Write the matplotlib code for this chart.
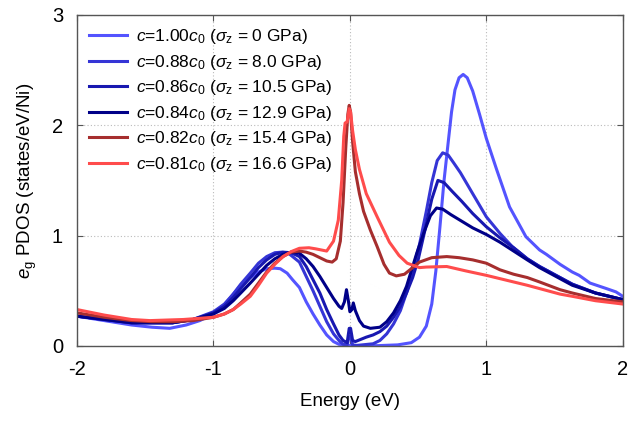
import matplotlib
matplotlib.use("Agg")
import matplotlib.pyplot as plt

plt.rcParams['font.family'] = ['Liberation Sans', 'DejaVu Sans']
plt.rcParams['mathtext.fontset'] = 'custom'
plt.rcParams['mathtext.rm'] = 'Liberation Sans'
plt.rcParams['mathtext.it'] = 'Liberation Sans:italic'
plt.rcParams['axes.unicode_minus'] = False

# data: energy (eV) and e_g PDOS (states/eV/Ni)
e_100 = [-2.0, -1.8, -1.6, -1.45, -1.32, -1.2, -1.1, -1.0, -0.92, -0.855, -0.8, -0.73, -0.67, -0.61,
         -0.55, -0.51, -0.46, -0.42, -0.37, -0.32, -0.27, -0.22, -0.17, -0.12, -0.08, 0.0, 0.2, 0.35,
         0.45, 0.51, 0.56, 0.6, 0.63, 0.66, 0.69, 0.72, 0.745, 0.77, 0.8, 0.83, 0.86, 0.9, 0.95, 1.0,
         1.075, 1.17, 1.29, 1.39, 1.44, 1.54, 1.63, 1.68, 1.76, 1.88, 1.95, 2.0]
d_100 = [0.27, 0.23, 0.19, 0.17, 0.16, 0.19, 0.23, 0.29, 0.37, 0.47, 0.55, 0.62, 0.67, 0.70,
         0.705, 0.70, 0.66, 0.60, 0.53, 0.40, 0.29, 0.19, 0.10, 0.04, 0.015, 0.005, 0.003, 0.01,
         0.03, 0.08, 0.18, 0.38, 0.68, 1.08, 1.50, 1.84, 2.12, 2.32, 2.43, 2.46, 2.43, 2.31, 2.10, 1.88,
         1.60, 1.26, 0.99, 0.87, 0.83, 0.74, 0.67, 0.64, 0.57, 0.52, 0.49, 0.45]

e_088 = [-2.0, -1.8, -1.6, -1.45, -1.3, -1.15, -1.0, -0.92, -0.855, -0.8, -0.73, -0.67, -0.61, -0.55,
         -0.5, -0.45, -0.4, -0.37, -0.32, -0.27, -0.22, -0.17, -0.12, -0.08, -0.05, -0.02, -0.005,
         0.005, 0.02, 0.05, 0.17, 0.22, 0.27, 0.32, 0.37, 0.42, 0.46, 0.51, 0.56, 0.6, 0.64, 0.68,
         0.72, 0.76, 0.81, 0.9, 1.0, 1.1, 1.19, 1.3, 1.39, 1.54, 1.63, 1.8, 2.0]
d_088 = [0.27, 0.24, 0.21, 0.21, 0.21, 0.24, 0.31, 0.38, 0.47, 0.56, 0.66, 0.75, 0.81, 0.845,
         0.85, 0.84, 0.79, 0.76, 0.63, 0.50, 0.36, 0.22, 0.11, 0.05, 0.015, 0.01, 0.09,
         0.09, 0.01, 0.005, 0.02, 0.05, 0.11, 0.2, 0.32, 0.5, 0.69, 0.92, 1.22, 1.48, 1.68, 1.75,
         1.73, 1.66, 1.57, 1.38, 1.17, 1.02, 0.90, 0.79, 0.72, 0.62, 0.56, 0.48, 0.42]

e_086 = [-2.0, -1.8, -1.6, -1.45, -1.3, -1.15, -1.0, -0.92, -0.855, -0.8, -0.73, -0.67, -0.61, -0.55,
         -0.49, -0.43, -0.37, -0.32, -0.27, -0.22, -0.17, -0.12, -0.08, -0.05, -0.02, -0.005, 0.005,
         0.02, 0.04, 0.08, 0.12, 0.17, 0.22, 0.27, 0.32, 0.37, 0.415, 0.46, 0.5, 0.55, 0.6, 0.645,
         0.69, 0.75, 0.82, 0.9, 1.0, 1.1, 1.2, 1.3, 1.39, 1.54, 1.63, 1.8, 2.0]
d_086 = [0.27, 0.24, 0.21, 0.21, 0.21, 0.24, 0.30, 0.36, 0.44, 0.52, 0.62, 0.71, 0.78, 0.83,
         0.85, 0.845, 0.81, 0.72, 0.60, 0.48, 0.33, 0.20, 0.10, 0.05, 0.03, 0.16, 0.16,
         0.05, 0.04, 0.06, 0.08, 0.10, 0.13, 0.18, 0.26, 0.36, 0.48, 0.62, 0.78, 1.05, 1.33, 1.50,
         1.48, 1.40, 1.31, 1.20, 1.08, 0.98, 0.89, 0.79, 0.72, 0.62, 0.56, 0.48, 0.42]

e_084 = [-2.0, -1.8, -1.6, -1.45, -1.3, -1.15, -1.0, -0.92, -0.855, -0.8, -0.73, -0.67, -0.61, -0.55,
         -0.49, -0.43, -0.37, -0.32, -0.27, -0.22, -0.17, -0.12, -0.08, -0.06, -0.04, -0.025, -0.01,
         0.0, 0.015, 0.025, 0.04, 0.07, 0.1, 0.15, 0.22, 0.27, 0.32, 0.37, 0.415, 0.45, 0.49, 0.54,
         0.59, 0.635, 0.68, 0.74, 0.82, 0.9, 1.0, 1.1, 1.2, 1.3, 1.39, 1.54, 1.63, 1.8, 2.0]
d_084 = [0.27, 0.24, 0.21, 0.21, 0.21, 0.24, 0.29, 0.34, 0.41, 0.48, 0.57, 0.65, 0.73, 0.79,
         0.83, 0.85, 0.84, 0.79, 0.72, 0.63, 0.53, 0.43, 0.36, 0.34, 0.40, 0.51, 0.40,
         0.31, 0.33, 0.39, 0.32, 0.23, 0.18, 0.16, 0.17, 0.22, 0.30, 0.41, 0.54, 0.68, 0.84, 1.02,
         1.18, 1.25, 1.24, 1.19, 1.13, 1.07, 1.01, 0.94, 0.86, 0.78, 0.71, 0.61, 0.55, 0.48, 0.42]

e_082 = [-2.0, -1.8, -1.6, -1.45, -1.3, -1.15, -1.0, -0.92, -0.855, -0.8, -0.73, -0.67, -0.61, -0.55,
         -0.49, -0.43, -0.37, -0.32, -0.27, -0.22, -0.17, -0.13, -0.1, -0.07, -0.05, -0.03, -0.015,
         -0.005, 0.005, 0.02, 0.04, 0.07, 0.1, 0.15, 0.2, 0.25, 0.29, 0.34, 0.4, 0.45, 0.51, 0.6,
         0.71, 0.8, 0.9, 1.0, 1.1, 1.2, 1.3, 1.39, 1.54, 1.63, 1.8, 2.0]
d_082 = [0.30, 0.26, 0.23, 0.22, 0.22, 0.23, 0.26, 0.29, 0.33, 0.39, 0.47, 0.57, 0.67, 0.75,
         0.81, 0.85, 0.86, 0.85, 0.83, 0.80, 0.77, 0.76, 0.79, 0.95, 1.3, 1.8, 2.1,
         2.18, 2.12, 1.85, 1.58, 1.38, 1.22, 1.05, 0.90, 0.74, 0.66, 0.635, 0.65, 0.70, 0.76, 0.80,
         0.81, 0.80, 0.78, 0.75, 0.69, 0.65, 0.62, 0.58, 0.51, 0.48, 0.43, 0.40]

e_081 = [-2.0, -1.8, -1.6, -1.465, -1.22, -1.0, -0.92, -0.855, -0.8, -0.73, -0.67, -0.61, -0.55,
         -0.49, -0.43, -0.37, -0.3, -0.25, -0.17, -0.12, -0.085, -0.06, -0.045, -0.035, -0.02,
         -0.005, 0.005, 0.02, 0.04, 0.07, 0.12, 0.2, 0.29, 0.36, 0.42, 0.51, 0.56, 0.71, 0.85, 1.0,
         1.1, 1.2, 1.3, 1.39, 1.54, 1.63, 1.8, 2.0]
d_081 = [0.33, 0.28, 0.24, 0.23, 0.24, 0.26, 0.29, 0.33, 0.38, 0.45, 0.55, 0.66, 0.74,
         0.81, 0.855, 0.885, 0.89, 0.88, 0.86, 0.95, 1.14, 1.5, 1.9, 2.02, 2.03,
         2.15, 2.12, 1.95, 1.78, 1.6, 1.38, 1.17, 0.94, 0.82, 0.75, 0.71, 0.715, 0.72, 0.68, 0.64,
         0.61, 0.58, 0.55, 0.52, 0.47, 0.45, 0.41, 0.38]

ratios = ['1.00', '0.88', '0.86', '0.84', '0.82', '0.81']
stress = ['0', '8.0', '10.5', '12.9', '15.4', '16.6']
colors = ['#5454ff', '#3535d6', '#1818b0', '#000088', '#a62e2e', '#ff4c4c']

energies = [e_100, e_088, e_086, e_084, e_082, e_081]
pdos = [d_100, d_088, d_086, d_084, d_082, d_081]

fig = plt.figure(figsize=(6.31, 4.24), dpi=100)
ax = fig.add_axes([0.122, 0.184, 0.865, 0.781])

for e, d, r, s, col in zip(energies, pdos, ratios, stress, colors):
    lab = r'$c$=' + r + r'$c_0$ ($\sigma_{\rm z}$ = ' + s + ' GPa)'
    ax.plot(e, d, color=col, lw=2.2, label=lab, solid_joinstyle='round')

ax.set_xlim(-2, 2)
ax.set_ylim(0, 3)
ax.set_xticks([-2, -1, 0, 1, 2])
ax.set_yticks([0, 1, 2, 3])
ax.grid(True, color='#bbbbbb', linestyle=(0, (1, 2)), lw=0.8)
ax.tick_params(direction='in', length=4, width=0.8, color='#555555',
               top=True, right=True, labelsize=14.5, pad=10)
for sp in ax.spines.values():
    sp.set_color('#555555')
    sp.set_linewidth(1.0)

ax.set_xlabel('Energy (eV)', fontsize=13.5, labelpad=10)
ax.set_ylabel(r'$e_{\rm g}$ PDOS (states/eV/Ni)', fontsize=13.5, labelpad=9)

ax.legend(loc='upper left', frameon=False, fontsize=12.5, handlelength=2.2,
          handletextpad=0.5, labelspacing=0.38, borderaxespad=0.3,
          bbox_to_anchor=(0.0, 1.0))

fig.savefig('out.png', dpi=100)
